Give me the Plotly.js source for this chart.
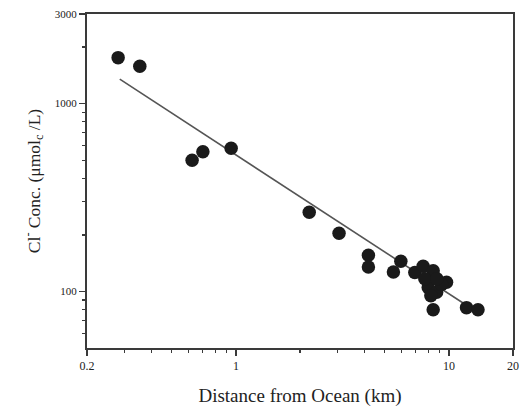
<!DOCTYPE html>
<html>
<head>
<meta charset="utf-8">
<script src="https://cdn.plot.ly/plotly-3.0.1.min.js"></script>
<style>html,body{margin:0;padding:0;background:#fff;}#chart{width:522px;height:410px;}</style>
</head>
<body>
<div id="chart"></div>
<script>
// Measured data: distance from ocean (km) vs Cl- concentration (µmol_c/L)
const distanceKm = [0.280, 0.354, 0.623, 0.700, 0.950, 2.21, 3.05, 4.19, 4.19, 5.49, 5.95,
  6.92, 7.57, 8.44, 9.75, 8.00, 8.76, 9.24, 7.71, 8.78, 8.23, 8.44, 12.1, 13.7];
const clConc = [1757, 1581, 500, 555, 579, 264, 204, 156, 135, 127, 145,
  126, 136, 129, 112, 105, 99, 109, 117, 117, 95, 80, 82, 80];
// Regression line endpoints
const fitX = [0.285, 13.7];
const fitY = [1350, 77];
// Axis ticks
const xTickVals = [0.2, 1, 10, 20];
const xTickText = ["0.2", "1", "10", "20"];
const xMinorVals = [0.3, 0.4, 0.5, 0.6, 0.7, 0.8, 0.9, 2, 3, 4, 5, 6, 7, 8, 9];
const yTickVals = [100, 1000, 3000];
const yTickText = ["100", "1000", "3000"];
const yMinorVals = [60, 70, 80, 90, 200, 300, 400, 500, 600, 700, 800, 900, 2000];

const axisColor = '#3a3a3a';
const fam = 'Liberation Serif, Times New Roman, serif';
const txtColor = '#222';

const traces = [
  {x: fitX, y: fitY, mode: 'lines', type: 'scatter',
   line: {color: '#555', width: 1.6}, hoverinfo: 'skip', showlegend: false},
  {x: distanceKm, y: clConc, mode: 'markers', type: 'scatter',
   marker: {color: '#1a1a1a', size: 13.5}, showlegend: false}
];

const layout = {
  width: 522, height: 410,
  margin: {l: 87, r: 9, t: 14, b: 62},
  paper_bgcolor: '#fff', plot_bgcolor: '#fff',
  font: {family: fam, color: txtColor},
  showlegend: false,
  xaxis: {
    type: 'log', range: [Math.log10(0.2), Math.log10(20)],
    tickmode: 'array', tickvals: xTickVals, ticktext: xTickText,
    ticks: 'outside', ticklen: 6, tickwidth: 1.5, tickcolor: axisColor,
    minor: {tickmode: 'array', tickvals: xMinorVals, ticks: 'outside', ticklen: 3, tickwidth: 1.2, tickcolor: axisColor, showgrid: false},
    showline: true, linecolor: axisColor, linewidth: 2, mirror: true,
    showgrid: false, zeroline: false,
    tickfont: {family: fam, size: 12, color: txtColor},
    title: {text: 'Distance from Ocean (km)', font: {family: fam, size: 19, color: txtColor}, standoff: 16}
  },
  yaxis: {
    type: 'log', range: [Math.log10(50), Math.log10(3000)],
    tickmode: 'array', tickvals: yTickVals, ticktext: yTickText,
    ticks: 'outside', ticklen: 6, tickwidth: 1.5, tickcolor: axisColor,
    minor: {tickmode: 'array', tickvals: yMinorVals, ticks: 'outside', ticklen: 3, tickwidth: 1.2, tickcolor: axisColor, showgrid: false},
    showline: true, linecolor: axisColor, linewidth: 2, mirror: true,
    showgrid: false, zeroline: false,
    tickfont: {family: fam, size: 11, color: txtColor},
    title: {text: 'Cl<sup>-</sup> Conc. (μmol<sub>c</sub> /L)', font: {family: fam, size: 17.5, color: txtColor}, standoff: 10}
  }
};

Plotly.newPlot('chart', traces, layout, {staticPlot: true, displayModeBar: false});
</script>
</body>
</html>
